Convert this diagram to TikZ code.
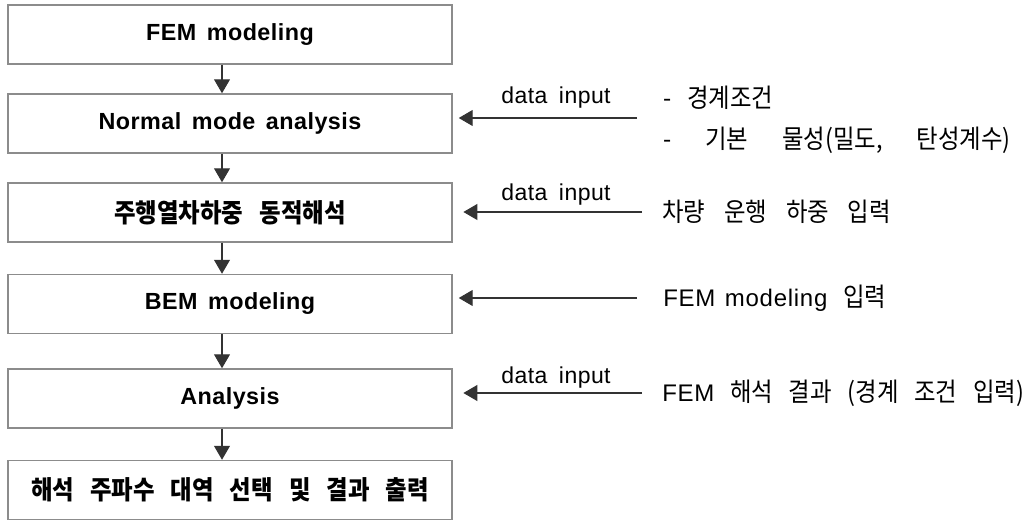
\documentclass[tikz,border=0pt]{standalone}
\usepackage{fontspec}
\setmainfont{Liberation Sans}
\newfontfamily\latreg[LetterSpace=2]{Liberation Sans}
\newfontfamily\latnote[LetterSpace=3]{Liberation Sans}
\newfontfamily\latbold[LetterSpace=2]{Liberation Sans}
\newfontfamily\krreg[FakeStretch=0.9,WordSpace=4]{Noto Sans CJK KR}
\newfontfamily\krbold[FakeStretch=0.9,WordSpace=3]{Noto Sans CJK KR}
\usetikzlibrary{arrows.meta}
\definecolor{boxline}{HTML}{8C8C8C}
\definecolor{arrowcol}{HTML}{333333}
\tikzset{
  stagebox/.style={draw=boxline, line width=1.1pt, fill=white, minimum width=333pt, minimum height=44.25pt, inner sep=0pt, align=center},
  latbox/.style={font=\latbold\bfseries\fontsize{17.5}{21}\selectfont},
  krbox/.style={font=\krbold\bfseries\fontsize{19.5}{22}\selectfont},
  flow/.style={draw=arrowcol, line width=0.8pt, -{Triangle[length=10.5pt, width=12pt]}},
  inlabel/.style={font=\latreg\fontsize{17.25}{20}\selectfont, inner sep=0pt},
  note/.style={font=\krreg\fontsize{19.5}{22}\selectfont, inner sep=0pt, anchor=west},
}
\newcommand{\notelat}[1]{{\latnote\fontsize{18}{21}\selectfont #1}}
\begin{document}
\begin{tikzpicture}[x=0.75pt, y=-0.75pt]
\useasboundingbox (0,0) rectangle (1033,520);
% stage boxes
\node[stagebox, latbox] (b1) at (230,34.5) {FEM\hspace{0.45em}modeling};
\node[stagebox, latbox] (b2) at (230,123.5) {Normal\hspace{0.45em}mode\hspace{0.45em}analysis};
\node[stagebox, krbox] (b3) at (230,212.5) {주행열차하중 동적해석};
\node[stagebox, latbox] (b4) at (230,304) {BEM\hspace{0.45em}modeling};
\node[stagebox, latbox] (b5) at (230,398.5) {Analysis};
\node[stagebox, krbox] (b6) at (230,490) {\raisebox{-3pt}{해석 주파수 대역 선택 및 결과 출력}};
% vertical flow
\coordinate (ax) at (222,0);
\draw[flow] (b1.south -| ax) -- (b2.north -| ax);
\draw[flow] (b2.south -| ax) -- (b3.north -| ax);
\draw[flow] (b3.south -| ax) -- (b4.north -| ax);
\draw[flow] (b4.south -| ax) -- (b5.north -| ax);
\draw[flow] (b5.south -| ax) -- (b6.north -| ax);
% input arrows
\coordinate (s2) at (637,118);
\coordinate (s3) at (642,212);
\coordinate (s4) at (637,298);
\coordinate (s5) at (642,393);
\draw[flow, shorten >=4.5pt] (s2) -- (s2 -| b2.east);
\draw[flow, shorten >=8pt] (s3) -- (s3 -| b3.east);
\draw[flow, shorten >=4.5pt] (s4) -- (s4 -| b4.east);
\draw[flow, shorten >=8pt] (s5) -- (s5 -| b5.east);
% labels
\node[inlabel] (d2) at (556,98) {data\hspace{0.5em}input};
\node[inlabel] (d3) at (556,195) {data\hspace{0.5em}input};
\node[inlabel] (d5) at (556,378) {data\hspace{0.5em}input};
% notes
\node[note] (n2a) at (663,98) {- 경계조건};
\node[note] (n2b) at (663,140) {-\hspace{0.7em} 기본\hspace{0.7em} 물성(밀도,\hspace{0.7em} 탄성계수)};
\node[note] (n3) at (662,212) {차량\hspace{0.12em} 운행\hspace{0.12em} 하중\hspace{0.12em} 입력};
\node[note] (n4) at (663,298) {\notelat{FEM\hspace{0.4em}modeling} 입력};
\node[note] (n5) at (662,393) {\notelat{FEM} 해석 결과 (경계 조건 입력)};
\end{tikzpicture}
\end{document}
